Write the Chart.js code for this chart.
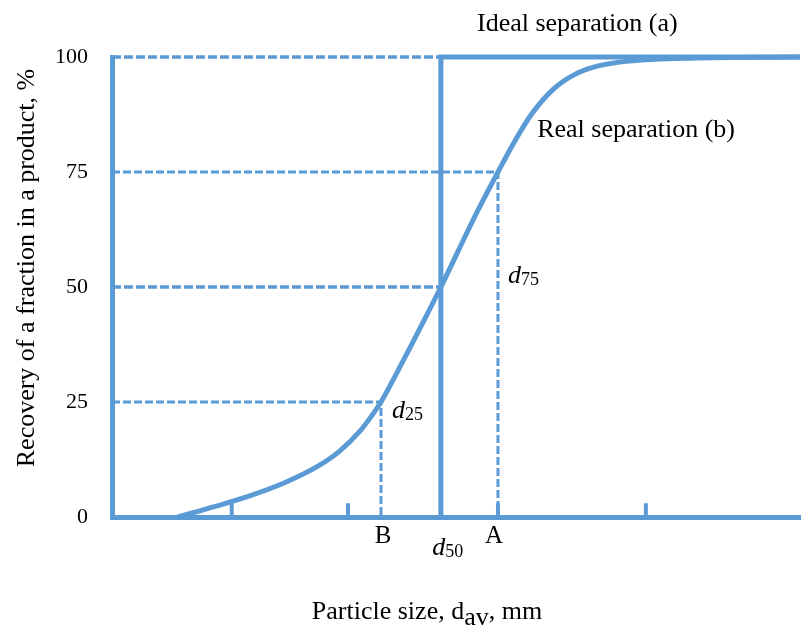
<!DOCTYPE html>
<html>
<head>
<meta charset="utf-8">
<script src="https://cdn.jsdelivr.net/npm/chart.js@4/dist/chart.umd.min.js"></script>
<style>
  html, body { margin: 0; padding: 0; background: #fff; }
  #wrap { width: 802px; height: 629px; }
</style>
</head>
<body>
<div id="wrap"><canvas id="c" width="802" height="629"></canvas></div>
<script>
// Partition (Tromp) curve: particle size in relative units (0–100 across the axis)
const sizeUnits    = [9.6, 15, 20, 25, 30, 33, 36, 37.5, 39.1, 41, 43, 45, 47.8, 50.5, 53, 56.1, 58.5, 61, 64, 67, 70, 75, 85, 100];
const realRecovery = [0, 2.3, 4.6, 7.4, 11.1, 14.2, 18.6, 21.5, 25, 30.2, 35.9, 41.7, 50, 58.4, 66.1, 75, 81.6, 87.6, 92.8, 96.0, 97.8, 99.1, 99.8, 100];

// Characteristic sizes
const sizeB = 39.1;     // d25
const sizeD50 = 47.8;   // d50, cut size of ideal separation
const sizeA = 56.1;     // d75

// Recovery levels marked on the y axis
const recoveryTicks = [0, 25, 50, 75, 100];

// Small marks on the size axis
const sizeMarks = [17.4, 34.3, 56.1, 77.6];
const markHeight = 3;

const BLUE = '#5B9BD5';
const SERIF = '"Liberation Serif", "Times New Roman", "DejaVu Serif", serif';

const pts = (xs, ys) => xs.map((x, i) => ({ x, y: ys[i] }));

const base = { pointRadius: 0, pointHoverRadius: 0, clip: false, fill: false, borderColor: BLUE, tension: 0 };

const datasets = [
  Object.assign({}, base, {
    label: 'Real separation (b)',
    data: pts(sizeUnits, realRecovery),
    borderWidth: 5,
    cubicInterpolationMode: 'monotone'
  }),
  Object.assign({}, base, {
    label: 'Ideal separation (a)',
    data: [{ x: sizeD50, y: 0 }, { x: sizeD50, y: 100 }, { x: 100, y: 100 }],
    borderWidth: 5
  }),
  Object.assign({}, base, {
    label: '100 %',
    data: [{ x: 0, y: 100 }, { x: sizeD50, y: 100 }],
    borderWidth: 3.5, borderDash: [9, 3]
  }),
  Object.assign({}, base, {
    label: 'd75',
    data: [{ x: 0, y: 75 }, { x: sizeA, y: 75 }, { x: sizeA, y: 0 }],
    borderWidth: 3, borderDash: [8, 3]
  }),
  Object.assign({}, base, {
    label: 'd50',
    data: [{ x: 0, y: 50 }, { x: sizeD50, y: 50 }],
    borderWidth: 3.5, borderDash: [9, 3]
  }),
  Object.assign({}, base, {
    label: 'd25',
    data: [{ x: 0, y: 25 }, { x: sizeB, y: 25 }, { x: sizeB, y: 0 }],
    borderWidth: 3, borderDash: [8, 3]
  })
];

sizeMarks.forEach((m, i) => {
  datasets.push(Object.assign({}, base, {
    label: 'mark' + i,
    data: [{ x: m, y: 0 }, { x: m, y: markHeight }],
    borderWidth: 4
  }));
});

// Text with a subscript, drawn left-aligned from x; returns the end x
function drawSub(ctx, parts, x, y) {
  let cx = x;
  parts.forEach(p => {
    ctx.font = p.font;
    ctx.fillText(p.text, cx, y + (p.dy || 0));
    cx += ctx.measureText(p.text).width;
  });
  return cx;
}
function widthOf(ctx, parts) {
  let w = 0;
  parts.forEach(p => { ctx.font = p.font; w += ctx.measureText(p.text).width; });
  return w;
}

const annotations = {
  id: 'annotations',
  afterDraw(chart) {
    const ctx = chart.ctx;
    const xs = chart.scales.x, ys = chart.scales.y;
    const X = v => xs.getPixelForValue(v);
    const Y = v => ys.getPixelForValue(v);
    const area = chart.chartArea;
    ctx.save();
    ctx.fillStyle = '#000';
    ctx.textBaseline = 'alphabetic';
    ctx.textAlign = 'left';

    const main = '26px ' + SERIF;
    const ital = 'italic 26px ' + SERIF;
    const sub = '18px ' + SERIF;

    // Curve names
    ctx.font = main;
    ctx.fillText('Ideal separation (a)', X(53.05), area.top - 26);
    ctx.fillText('Real separation (b)', X(61.8), Y(84.6) + 9);

    // Characteristic sizes
    drawSub(ctx, [{ text: 'd', font: ital }, { text: '25', font: sub, dy: 2 }], X(sizeB) + 11, Y(25) + 16);
    drawSub(ctx, [{ text: 'd', font: ital }, { text: '75', font: sub, dy: 2 }], X(sizeA) + 10, Y(52.4) + 7);

    ctx.font = '25px ' + SERIF;
    ctx.textAlign = 'center';
    ctx.fillText('B', X(sizeB) + 2, area.bottom + 26);
    ctx.fillText('A', X(sizeA) - 4, area.bottom + 26);
    ctx.textAlign = 'left';
    const d50 = [{ text: 'd', font: ital }, { text: '50', font: sub, dy: 2 }];
    drawSub(ctx, d50, X(sizeD50) - widthOf(ctx, d50) / 2 + 7, area.bottom + 38);

    // Axis titles
    const xt = [
      { text: 'Particle size, d', font: main },
      { text: 'av', font: main, dy: 6 },
      { text: ', mm', font: main }
    ];
    drawSub(ctx, xt, 427 - widthOf(ctx, xt) / 2, area.bottom + 102);

    ctx.translate(34, (area.top + area.bottom) / 2 - 19);
    ctx.rotate(-Math.PI / 2);
    ctx.font = main;
    ctx.textAlign = 'center';
    ctx.fillText('Recovery of a fraction in a product, %', 0, 0);
    ctx.restore();
  }
};

new Chart(document.getElementById('c'), {
  type: 'line',
  data: { datasets },
  options: {
    responsive: false,
    animation: false,
    events: [],
    layout: { padding: { top: 57, right: 2, left: 0, bottom: 0 } },
    plugins: { legend: { display: false }, tooltip: { enabled: false } },
    scales: {
      x: {
        type: 'linear', min: 0, max: 100,
        ticks: { display: false },
        grid: { display: false, drawTicks: false },
        border: { display: true, color: BLUE, width: 5 },
        afterFit: s => { s.height = 112; }
      },
      y: {
        type: 'linear', min: 0, max: 100,
        afterBuildTicks: s => { s.ticks = recoveryTicks.map(v => ({ value: v })); },
        ticks: { color: '#000', font: { family: SERIF, size: 22 }, padding: 24 },
        grid: { display: false, drawTicks: false },
        border: { display: true, color: BLUE, width: 5 },
        afterFit: s => { s.width = 112; }
      }
    }
  },
  plugins: [annotations]
});
</script>
</body>
</html>
